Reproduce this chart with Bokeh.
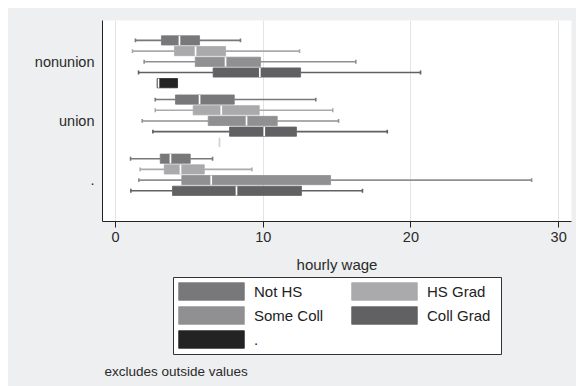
from bokeh.plotting import figure
from bokeh.layouts import column
from bokeh.models import (Range1d, FixedTicker, Legend, LegendItem, Label, ColumnDataSource,
                          BoxAnnotation)
from bokeh.embed import file_html
from bokeh.resources import INLINE

# ---- data ----
groups = ["nonunion", "union", "."]
series = ["Not HS", "HS Grad", "Some Coll", "Coll Grad", "."]
colors = ["#78787a", "#aaaaac", "#909092", "#616163", "#232323"]

# per series: values for groups [nonunion, union, "."]; None = no box
lower_whisker = {
    "Not HS":    [1.35, 2.69, 1.02],
    "HS Grad":   [1.15, 2.69, 1.67],
    "Some Coll": [1.94, 1.81, 1.58],
    "Coll Grad": [1.56, 2.53, 1.04],
    ".":         [2.82, 7.04, None],
}
q1 = {
    "Not HS":    [3.11, 4.06, 3.03],
    "HS Grad":   [3.99, 5.26, 3.30],
    "Some Coll": [5.40, 6.28, 4.49],
    "Coll Grad": [6.61, 7.72, 3.86],
    ".":         [2.82, 7.04, None],
}
median = {
    "Not HS":    [4.33, 5.69, 3.72],
    "HS Grad":   [5.42, 7.16, 4.40],
    "Some Coll": [7.45, 8.87, 6.48],
    "Coll Grad": [9.77, 10.07, 8.19],
    ".":         [2.91, 7.04, None],
}
q3 = {
    "Not HS":    [5.69, 8.04, 5.06],
    "HS Grad":   [7.45, 9.73, 6.01],
    "Some Coll": [9.82, 10.95, 14.56],
    "Coll Grad": [12.53, 12.25, 12.59],
    ".":         [4.20, 7.04, None],
}
upper_whisker = {
    "Not HS":    [8.46, 13.56, 6.57],
    "HS Grad":   [12.46, 14.71, 9.23],
    "Some Coll": [16.27, 15.10, 28.17],
    "Coll Grad": [20.65, 18.40, 16.72],
    ".":         [4.20, 7.04, None],
}
x_ticks = [0, 10, 20, 30]
note_text = "excludes outside values"

# ---- layout constants ----
GROUP = 10.0
SLOT = GROUP / 5.53
BOX_H = 0.86 * SLOT
CAP = 0.18 * SLOT
MED = 0.43 * SLOT
BG = "#eeeff1"
FONT = "Liberation Sans"
TXT = "#2a2a2a"

p = figure(width=568, height=268, output_backend="svg", toolbar_location=None,
           x_range=Range1d(-0.88, 30.87), y_range=Range1d(14.93 * SLOT, -3.86 * SLOT),
           min_border_left=94, min_border_right=5, min_border_top=12, min_border_bottom=55)
p.background_fill_color = "white"
p.border_fill_color = BG
p.outline_line_color = None

box_sources = {}
faint = dict(x0=[], x1=[], y0=[], y1=[])
for s_i, name in enumerate(series):
    col = colors[s_i]
    box = dict(y=[], left=[], right=[])
    wh = dict(x0=[], x1=[], y=[])
    caps = dict(x=[], y0=[], y1=[])
    med = dict(x=[], y0=[], y1=[])
    for g_i in range(len(groups)):
        if q1[name][g_i] is None:
            continue
        y = g_i * GROUP + (s_i - 2) * SLOT
        a, b = q1[name][g_i], q3[name][g_i]
        if a == b:
            faint["x0"].append(a); faint["x1"].append(a)
            faint["y0"].append(y - BOX_H / 2); faint["y1"].append(y + BOX_H / 2)
            continue
        box["y"].append(y); box["left"].append(a); box["right"].append(b)
        lw_, uw_ = lower_whisker[name][g_i], upper_whisker[name][g_i]
        if lw_ < a:
            wh["x0"].append(lw_); wh["x1"].append(a); wh["y"].append(y)
            caps["x"].append(lw_); caps["y0"].append(y - CAP); caps["y1"].append(y + CAP)
        if uw_ > b:
            wh["x0"].append(b); wh["x1"].append(uw_); wh["y"].append(y)
            caps["x"].append(uw_); caps["y0"].append(y - CAP); caps["y1"].append(y + CAP)
        med["x"].append(median[name][g_i]); med["y0"].append(y - MED); med["y1"].append(y + MED)
    p.segment(x0="x0", x1="x1", y0="y", y1="y", source=ColumnDataSource(wh),
              line_color=col, line_width=1.6)
    p.segment(x0="x", x1="x", y0="y0", y1="y1", source=ColumnDataSource(caps),
              line_color=col, line_width=1.6)
    src = ColumnDataSource(box)
    box_sources[name] = src
    p.hbar(y="y", left="left", right="right", height=BOX_H, source=src,
           fill_color=col, line_color=col, line_width=0.8)
    p.segment(x0="x", x1="x", y0="y0", y1="y1", source=ColumnDataSource(med),
              line_color="white", line_width=1.7)

p.segment(x0="x0", x1="x1", y0="y0", y1="y1", source=ColumnDataSource(faint),
          line_color="#d4d4d4", line_width=1.8)

# axes
p.xaxis.ticker = FixedTicker(ticks=x_ticks)
p.xaxis.axis_label = "hourly wage"
p.xaxis.axis_label_text_font = FONT
p.xaxis.axis_label_text_font_size = "15px"
p.xaxis.axis_label_text_font_style = "normal"
p.xaxis.axis_label_text_color = TXT
p.xaxis.axis_label_standoff = 11
p.xaxis.major_label_text_font = FONT
p.xaxis.major_label_text_font_size = "14.5px"
p.xaxis.major_label_text_color = TXT
p.xaxis.major_label_standoff = 4
p.xaxis.major_tick_in = 0
p.xaxis.major_tick_out = 6
p.xaxis.minor_tick_out = 0
p.xaxis.minor_tick_in = 0
p.xaxis.axis_line_color = "#222222"
p.xaxis.major_tick_line_color = "#222222"

p.yaxis.ticker = FixedTicker(ticks=[g * GROUP for g in range(len(groups))])
p.yaxis.major_label_overrides = {int(g * GROUP): groups[g] for g in range(len(groups))}
p.yaxis.major_label_text_font = FONT
p.yaxis.major_label_text_font_size = "14.5px"
p.yaxis.major_label_text_color = TXT
p.yaxis.major_label_standoff = 8
p.yaxis.major_tick_in = 0
p.yaxis.major_tick_out = 0
p.yaxis.minor_tick_out = 0
p.yaxis.minor_tick_in = 0
p.yaxis.axis_line_color = "#222222"

p.xgrid.ticker = FixedTicker(ticks=x_ticks)
p.xgrid.grid_line_color = "#e4e4e4"
p.ygrid.grid_line_color = None

# ---- legend panel (separate figure below the chart, same borders) ----
# its ranges keep the proxy boxes out of view; only the legend and note show
q = figure(width=568, height=110, output_backend="svg", toolbar_location=None,
           x_range=Range1d(1000, 1001), y_range=Range1d(1000, 1001),
           x_axis_location=None, y_axis_location=None,
           min_border_left=94, min_border_right=5, min_border_top=0, min_border_bottom=0)
q.background_fill_color = BG
q.border_fill_color = BG
q.outline_line_color = None
q.grid.grid_line_color = None

leg_r = {}
for s_i, name in enumerate(series):
    leg_r[name] = q.hbar(y="y", left="left", right="right", height=BOX_H,
                         source=box_sources[name], fill_color=colors[s_i],
                         line_color=colors[s_i], line_width=0.8)

frame_box = BoxAnnotation(left=71, right=399, top=109, bottom=32,
                          left_units="screen", right_units="screen",
                          top_units="screen", bottom_units="screen",
                          fill_color="white", fill_alpha=1.0,
                          line_color="#333333", line_alpha=1.0, line_width=1)
q.add_layout(frame_box)

common = dict(glyph_width=82, glyph_height=22, label_height=22, label_standoff=2,
              spacing=2, padding=0, margin=0, label_text_font=FONT,
              label_text_font_size="15px", label_text_color="#222222",
              border_line_color=None, background_fill_alpha=0.0)
leg1 = Legend(items=[LegendItem(label=n, renderers=[leg_r[n]]) for n in ["Not HS", "Some Coll", "."]],
              location=(68, 36), **common)
leg2 = Legend(items=[LegendItem(label=n, renderers=[leg_r[n]]) for n in ["HS Grad", "Coll Grad"]],
              location=(241, 60), **common)
q.add_layout(leg1)
q.add_layout(leg2)

note = Label(x=2, y=15, x_units="screen", y_units="screen", text=note_text,
             text_font=FONT, text_font_size="13.5px", text_color=TXT,
             text_baseline="alphabetic")
q.add_layout(note)

layout = column(p, q, spacing=0, margin=(8, 0, 0, 8), styles={"background-color": BG})
open("out.html", "w").write(file_html(layout, INLINE))
